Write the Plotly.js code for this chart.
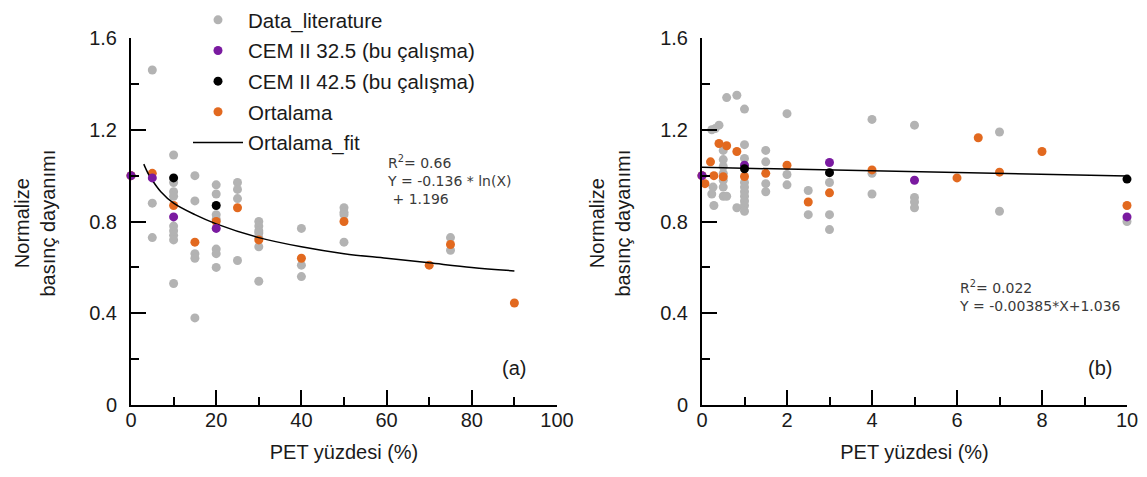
<!DOCTYPE html>
<html>
<head>
<meta charset="utf-8">
<script src="https://cdn.plot.ly/plotly-3.0.1.min.js"></script>
<style>html,body{margin:0;padding:0;background:#fff;}#chart{width:1147px;height:477px;}</style>
</head>
<body>
<div id="chart"></div>
<script>
// ---------- Panel (a): PET 0-100 % ----------
const litA_x = [0, 5,5,5, 10,10,10,10,10,10,10,10,10, 15,15,15,15,15, 20,20,20,20,20,20,20, 25,25,25,25, 30,30,30,30,30,30,30, 40,40,40, 50,50,50,50, 75,75];
const litA_y = [1.0, 1.46,0.88,0.73, 1.09,0.97,0.93,0.91,0.78,0.76,0.74,0.72,0.53, 1.00,0.89,0.66,0.64,0.38, 0.96,0.92,0.83,0.81,0.68,0.66,0.60, 0.97,0.94,0.90,0.63, 0.80,0.78,0.76,0.75,0.73,0.69,0.54, 0.77,0.61,0.56, 0.86,0.84,0.83,0.71, 0.73,0.675];
const cem32A_x = [0, 5, 10, 20];
const cem32A_y = [1.0, 0.99, 0.82, 0.77];
const cem42A_x = [10, 20];
const cem42A_y = [0.99, 0.87];
const ortA_x = [0, 5, 10, 15, 20, 25, 30, 40, 50, 70, 75, 90];
const ortA_y = [1.0, 1.01, 0.87, 0.71, 0.80, 0.86, 0.72, 0.64, 0.80, 0.61, 0.70, 0.445];
const fitA_x = [3, 4, 5, 7, 10, 15, 20, 30, 40, 50, 60, 70, 80, 90];
const fitA_y = [1.05, 1.01, 0.98, 0.93, 0.88, 0.83, 0.79, 0.73, 0.69, 0.66, 0.64, 0.62, 0.60, 0.585];

// ---------- Panel (b): PET 0-10 % ----------
const litB_x = [0, 0.23,0.31,0.4, 0.26,0.23,0.28, 0.5,0.5,0.5,0.5,0.5,0.5,0.5, 0.58,0.82, 0.58,0.82,
  1,1,1,1,1,1,1,1,1,1, 1.5,1.5,1.5,1.5, 2,2,2, 2.5,2.5, 3,3,3, 4,4,4, 5,5,5,5, 7,7, 10];
const litB_y = [1.0, 1.20,1.205,1.22, 0.95,0.92,0.87, 1.11,1.07,1.04,1.01,0.98,0.95,0.91, 1.34,1.35, 0.91,0.86,
  1.29,1.135,1.075,0.97,0.95,0.93,0.91,0.89,0.87,0.845, 1.11,1.06,0.965,0.93, 1.27,1.005,0.96, 0.935,0.83, 0.97,0.83,0.765, 1.245,1.01,0.92, 1.22,0.905,0.885,0.86, 1.19,0.845, 0.80];
const cem32B_x = [0, 1, 3, 5, 10];
const cem32B_y = [1.0, 1.045, 1.057, 0.98, 0.82];
const cem42B_x = [1, 3, 10];
const cem42B_y = [1.03, 1.013, 0.985];
const ortB_x = [0, 0.07, 0.2, 0.28, 0.4, 0.5, 0.58, 0.82, 1, 1.5, 2, 2.5, 3, 4, 6, 6.5, 7, 8, 10];
const ortB_y = [1.0, 0.965, 1.06, 1.0, 1.14, 0.995, 1.13, 1.105, 0.996, 1.01, 1.045, 0.885, 0.925, 1.025, 0.99, 1.165, 1.015, 1.105, 0.87];
const fitB_x = [0, 10];
const fitB_y = [1.036, 0.998];

const xTicksA = [0, 20, 40, 60, 80, 100];
const xTicksB = [0, 2, 4, 6, 8, 10];
const yTicks = [0, 0.4, 0.8, 1.2, 1.6];
const yTickText = ['0', '0.4', '0.8', '1.2', '1.6'];

const names = ['Data_literature', 'CEM II 32.5 (bu çalışma)', 'CEM II 42.5 (bu çalışma)', 'Ortalama', 'Ortalama_fit'];
const GRAY = '#b3b3b3', PURPLE = '#7a1aa0', BLACK = '#000000', ORANGE = '#e2691f';
const MS = 9;

function pts(x, y, color, name, rank, axes, show) {
  return {x: x, y: y, type: 'scatter', mode: 'markers', name: name, legendrank: rank,
    legendgroup: name, showlegend: show, cliponaxis: false,
    marker: {color: color, size: MS, line: {width: 0}},
    xaxis: axes[0], yaxis: axes[1], hoverinfo: 'skip'};
}
function fit(x, y, name, shape, axes, show) {
  return {x: x, y: y, type: 'scatter', mode: 'lines', name: name, legendrank: 5,
    legendgroup: name, showlegend: show, cliponaxis: false,
    line: {color: '#000', width: 1.5, shape: shape},
    xaxis: axes[0], yaxis: axes[1], hoverinfo: 'skip'};
}

const A = ['x', 'y'], B = ['x2', 'y2'];
const data = [
  pts(litA_x, litA_y, GRAY, names[0], 1, A, true),
  pts(ortA_x, ortA_y, ORANGE, names[3], 4, A, true),
  fit(fitA_x, fitA_y, names[4], 'spline', A, true),
  pts(cem32A_x, cem32A_y, PURPLE, names[1], 2, A, true),
  pts(cem42A_x, cem42A_y, BLACK, names[2], 3, A, true),
  pts(litB_x, litB_y, GRAY, names[0], 1, B, false),
  pts(ortB_x, ortB_y, ORANGE, names[3], 4, B, false),
  fit(fitB_x, fitB_y, names[4], 'linear', B, false),
  pts(cem32B_x, cem32B_y, PURPLE, names[1], 2, B, false),
  pts(cem42B_x, cem42B_y, BLACK, names[2], 3, B, false)
];

const W = 1147, H = 477;
const px = v => v / W, py = v => 1 - v / H;
const tickFont = {family: 'Liberation Sans, Arial, sans-serif', size: 20, color: '#1a1a1a'};

function xax(domain, range, tickvals, minorStep) {
  return {domain: domain, range: range, tickmode: 'array', tickvals: tickvals, ticktext: tickvals.map(String),
    showline: true, linecolor: '#000', linewidth: 2, showgrid: false, zeroline: false,
    ticks: 'inside', ticklen: 15, tickwidth: 2, tickcolor: '#000', tickfont: tickFont,
    ticklabelstandoff: -4,
    minor: {ticks: 'inside', ticklen: 8, tickwidth: 2, tickcolor: '#000', dtick: minorStep, tick0: 0, showgrid: false},
    title: {text: 'PET yüzdesi (%)', font: tickFont, standoff: 15}, automargin: false, fixedrange: true};
}
function yax(anchor) {
  return {domain: [py(405), py(37)], range: [0, 1.6], anchor: anchor, tickmode: 'array', tickvals: yTicks, ticktext: yTickText,
    showline: true, linecolor: '#000', linewidth: 2, showgrid: false, zeroline: false,
    ticks: 'inside', ticklen: 15, tickwidth: 2, tickcolor: '#000', tickfont: tickFont,
    ticklabelstandoff: 8,
    minor: {ticks: 'inside', ticklen: 8, tickwidth: 2, tickcolor: '#000', dtick: 0.2, tick0: 0, showgrid: false},
    automargin: false, fixedrange: true};
}

const annFont = {family: 'DejaVu Sans, Liberation Sans, sans-serif', size: 14, color: '#3a3a3a'};
const layout = {
  width: W, height: H,
  margin: {l: 0, r: 0, t: 0, b: 0},
  paper_bgcolor: '#fff', plot_bgcolor: '#fff',
  showlegend: true,
  xaxis: Object.assign(xax([px(131), px(557)], [0, 100], xTicksA, 10), {anchor: 'y'}),
  yaxis: yax('x'),
  xaxis2: Object.assign(xax([px(702), px(1127)], [0, 10], xTicksB, 1), {anchor: 'y2'}),
  yaxis2: yax('x2'),
  legend: {x: px(188), y: py(-1), xanchor: 'left', yanchor: 'top', bgcolor: 'rgba(0,0,0,0)',
    font: {family: 'Liberation Sans, Arial, sans-serif', size: 20.5, color: '#1a1a1a'},
    traceorder: 'grouped', tracegroupgap: 1, itemwidth: 50},
  annotations: [
    {text: 'Normalize<br>basınç dayanımı', textangle: -90, xref: 'paper', yref: 'paper', x: px(35), y: py(223),
      xanchor: 'center', yanchor: 'middle', showarrow: false, font: tickFont},
    {text: 'Normalize<br>basınç dayanımı', textangle: -90, xref: 'paper', yref: 'paper', x: px(610), y: py(223),
      xanchor: 'center', yanchor: 'middle', showarrow: false, font: tickFont},
    {text: 'R<sup>2</sup>= 0.66<br>Y = -0.136 * ln(X)<br> + 1.196', xref: 'paper', yref: 'paper', x: px(385), y: py(150),
      xanchor: 'left', yanchor: 'top', align: 'left', showarrow: false, font: annFont},
    {text: 'R<sup>2</sup>= 0.022<br>Y = -0.00385*X+1.036', xref: 'paper', yref: 'paper', x: px(957), y: py(276),
      xanchor: 'left', yanchor: 'top', align: 'left', showarrow: false, font: annFont},
    {text: '(a)', xref: 'paper', yref: 'paper', x: px(514), y: py(368), xanchor: 'center', yanchor: 'middle',
      showarrow: false, font: tickFont},
    {text: '(b)', xref: 'paper', yref: 'paper', x: px(1100), y: py(368), xanchor: 'center', yanchor: 'middle',
      showarrow: false, font: tickFont}
  ]
};

Plotly.newPlot('chart', data, layout, {staticPlot: true, displayModeBar: false});
</script>
</body>
</html>
